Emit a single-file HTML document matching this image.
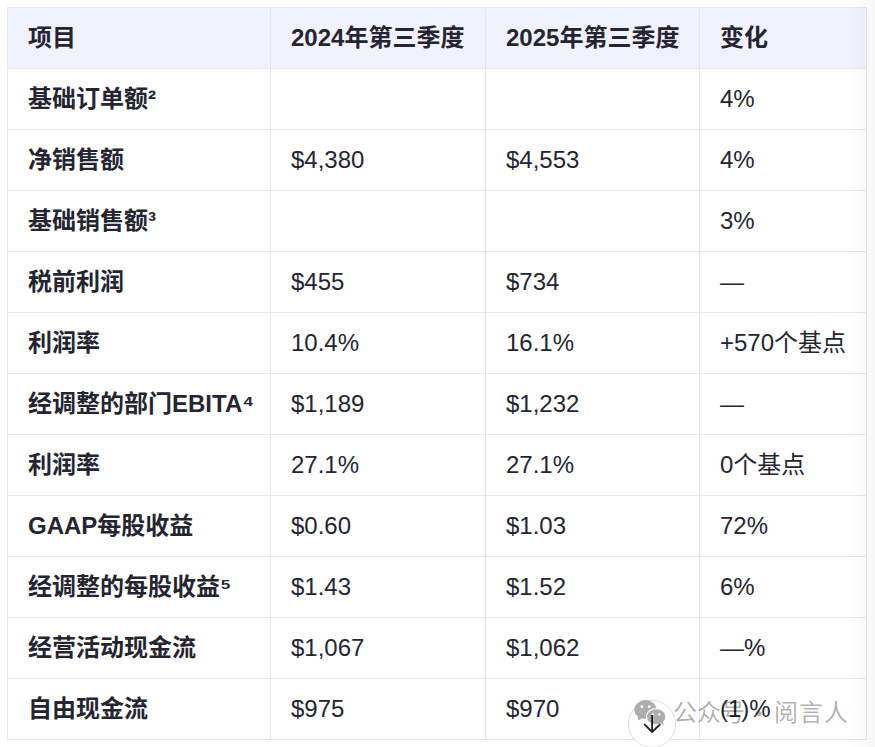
<!DOCTYPE html>
<html><head><meta charset="utf-8">
<style>
html,body{margin:0;padding:0;background:#fff;}
body{width:875px;height:747px;overflow:hidden;position:relative;
font-family:"Liberation Sans","Noto Sans CJK SC",sans-serif;color:#252532;}
table{position:absolute;left:7px;top:7px;border-collapse:collapse;table-layout:fixed;width:859px;font-size:24px;}
td,th{border:1px solid #e4e6ef;height:61px;padding:0 0 0 20px;text-align:left;line-height:24px;white-space:nowrap;box-sizing:border-box;}
th{background:#f2f2fe;font-weight:bold;}
td:first-child{font-weight:bold;}

.shade{position:absolute;left:848px;top:0;width:27px;height:747px;background:linear-gradient(to right,rgba(0,0,0,0),rgba(0,0,0,0.03));}
.btn{position:absolute;left:628px;top:700px;width:48px;height:48px;border-radius:50%;background:#fff;border:1px solid #dcdde9;box-sizing:border-box;}
.ov{position:absolute;left:0;top:0;}
.wm span{position:absolute;top:696.5px;font-family:"Noto Sans CJK SC",sans-serif;font-size:24px;line-height:28px;color:rgba(0,0,0,0.32);white-space:nowrap;}
</style></head><body>
<table>
<colgroup><col style="width:263px"><col style="width:215px"><col style="width:214px"><col style="width:167px"></colgroup>
<tr><th>项目</th><th>2024年第三季度</th><th>2025年第三季度</th><th>变化</th></tr>
<tr><td>基础订单额²</td><td></td><td></td><td>4%</td></tr>
<tr><td>净销售额</td><td>$4,380</td><td>$4,553</td><td>4%</td></tr>
<tr><td>基础销售额³</td><td></td><td></td><td>3%</td></tr>
<tr><td>税前利润</td><td>$455</td><td>$734</td><td>—</td></tr>
<tr><td>利润率</td><td>10.4%</td><td>16.1%</td><td>+570个基点</td></tr>
<tr><td>经调整的部门EBITA⁴</td><td>$1,189</td><td>$1,232</td><td>—</td></tr>
<tr><td>利润率</td><td>27.1%</td><td>27.1%</td><td>0个基点</td></tr>
<tr><td>GAAP每股收益</td><td>$0.60</td><td>$1.03</td><td>72%</td></tr>
<tr><td>经调整的每股收益⁵</td><td>$1.43</td><td>$1.52</td><td>6%</td></tr>
<tr><td>经营活动现金流</td><td>$1,067</td><td>$1,062</td><td>—%</td></tr>
<tr><td>自由现金流</td><td>$975</td><td>$970</td><td>(1)%</td></tr>
</table>

<div class="shade"></div>
<div class="btn"></div>
<svg class="ov" width="875" height="747" viewBox="0 0 875 747">
  <g fill="#adadad">
    <ellipse cx="645.4" cy="709.6" rx="11" ry="9.5"/>
    <path d="M638 716 L638 720.5 L642.5 718 Z"/>
    <ellipse cx="656.2" cy="716.7" rx="9.8" ry="8.1" stroke="#fff" stroke-width="1.2"/>
    <path d="M660 722 L663.5 726 L663 720 Z"/>
  </g>
  <g fill="#fff">
    <circle cx="641.9" cy="706.7" r="1.4"/><circle cx="649.3" cy="706.7" r="1.4"/>
    <circle cx="653" cy="714.4" r="1.2"/><circle cx="659.3" cy="714.4" r="1.2"/>
  </g>
  <g stroke="#1c1c1c" stroke-width="1.8" fill="none" stroke-linecap="butt">
    <path d="M652.1 715 V731.5"/>
    <path d="M644.2 724.2 L652.1 732 L660.3 724.1"/>
  </g>
</svg>
<div class="wm"><span style="left:673px">公众号</span><span style="left:747px;top:697.5px">·</span><span style="left:774px;letter-spacing:1px">阅言人</span></div>
</body></html>
